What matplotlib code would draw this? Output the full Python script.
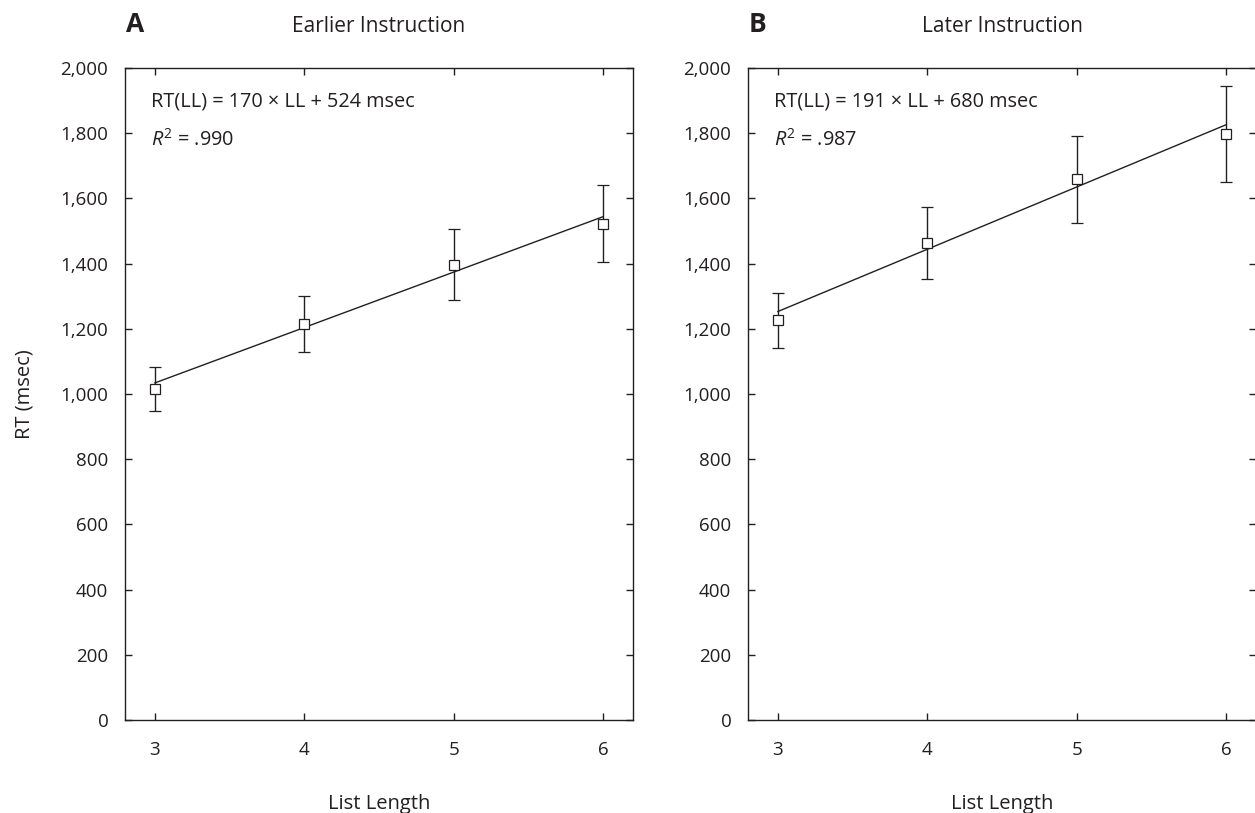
import numpy as np
import matplotlib
matplotlib.use("Agg")
import matplotlib.pyplot as plt

plt.rcParams['font.family'] = ['Open Sans', 'DejaVu Sans']
plt.rcParams['mathtext.fontset'] = 'custom'
plt.rcParams['mathtext.rm'] = 'Open Sans'
plt.rcParams['mathtext.it'] = 'Open Sans:italic'

# data
list_length = [3, 4, 5, 6]

early_mean = [1016, 1215, 1397, 1522]
early_low = [948, 1128, 1287, 1404]
early_high = [1083, 1302, 1505, 1640]
early_slope, early_icpt, early_r2 = 170, 524, ".990"

late_mean = [1227, 1464, 1659, 1798]
late_low = [1142, 1354, 1525, 1651]
late_high = [1309, 1575, 1791, 1945]
late_slope, late_icpt, late_r2 = 191, 680, ".987"

ytick_vals = [0, 200, 400, 600, 800, 1000, 1200, 1400, 1600, 1800, 2000]
ytick_labels = ["0", "200", "400", "600", "800", "1,000", "1,200", "1,400",
                "1,600", "1,800", "2,000"]

ink = '#231f20'
W, H = 1255, 813
fig = plt.figure(figsize=(W / 100, H / 100), dpi=100)


def panel(left_px, letter, title, mean, low, high, slope, icpt, r2, ylabel):
    ax = fig.add_axes([left_px / W, (H - 720) / H, 508 / W, 652 / H])
    mean = np.array(mean)
    yerr = [mean - np.array(low), np.array(high) - mean]
    ax.errorbar(list_length, mean, yerr=yerr, fmt='s', ms=6.5, mfc='white',
                mec=ink, mew=0.9, ecolor=ink, elinewidth=1.0, capsize=4.5,
                capthick=1.0, zorder=3)
    # fitted regression line
    xs = np.array([list_length[0], list_length[-1]])
    ax.plot(xs, slope * xs + icpt, color=ink, lw=1.0, zorder=2)

    ax.set_xlim(2.8, 6.2)
    ax.set_ylim(0, 2000)
    ax.set_xticks(list_length)
    ax.set_yticks(ytick_vals)
    ax.set_yticklabels(ytick_labels)
    ax.tick_params(direction='in', top=True, right=True, length=5, width=1,
                   color=ink, labelcolor=ink, labelsize=13.5)
    ax.tick_params(axis='x', pad=15)
    ax.tick_params(axis='y', pad=12)
    for s in ax.spines.values():
        s.set_color(ink)
        s.set_linewidth(1.0)

    ax.set_xlabel("List Length", fontsize=14.5, color=ink, labelpad=25)
    if ylabel:
        ax.set_ylabel("RT (msec)", fontsize=14.5, color=ink, labelpad=19)

    ax.text(0.051, 0.949, f"RT(LL) = {slope} \u00d7 LL + {icpt} msec",
            transform=ax.transAxes, fontsize=14.3, color=ink,
            ha='left', va='center')
    ax.text(0.051, 0.89, r"$\mathit{R}^2$ = " + r2, transform=ax.transAxes,
            fontsize=14.3, color=ink, ha='left', va='center')

    fig.text((left_px + 1) / W, 1 - 24 / H, letter, fontsize=19,
             fontweight='bold', color=ink, ha='left', va='center')
    fig.text((left_px + 254) / W, 1 - 27 / H, title, fontsize=15,
             color=ink, ha='center', va='center')
    return ax


panel(125, "A", "Earlier Instruction", early_mean, early_low, early_high,
      early_slope, early_icpt, early_r2, True)
panel(748, "B", "Later Instruction", late_mean, late_low, late_high,
      late_slope, late_icpt, late_r2, False)

fig.savefig("out.png", dpi=100)
